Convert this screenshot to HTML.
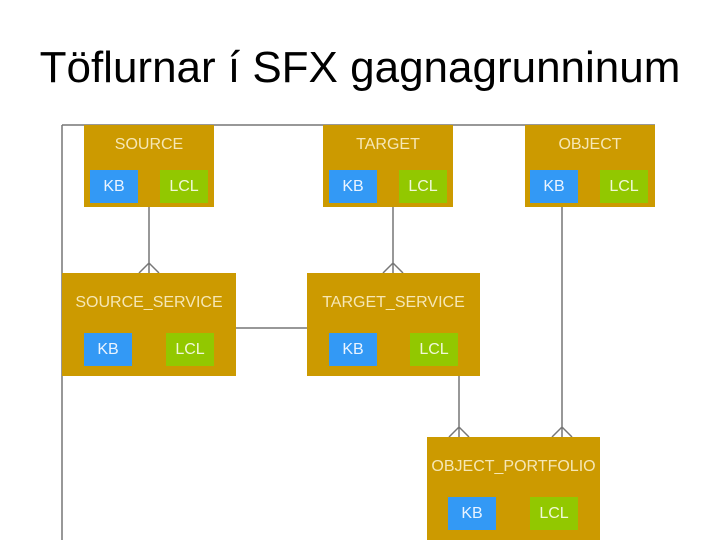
<!DOCTYPE html>
<html><head><meta charset="utf-8"><style>
body{margin:0;width:720px;height:540px;background:#fff;position:relative;overflow:hidden;font-family:"Liberation Sans",sans-serif}
.t{position:absolute;left:0;width:720px;top:43px;text-align:center;font-size:44px;color:#000;white-space:nowrap}
.b{position:absolute;background:#cc9a00}
.n{position:absolute;left:0;right:0;text-align:center;color:#f6e7b5;font-size:16px}
.k,.l{position:absolute;width:48px;height:33px;line-height:33px;text-align:center;color:#eaf4ff;font-size:16px}
.k{background:#3399f5}.l{background:#92c800;color:#f0f8d8}
svg{position:absolute;left:0;top:0}
</style></head><body>
<div class="t">Töflurnar í SFX gagnagrunninum</div>
<svg width="720" height="540">
<g stroke="#777" stroke-width="1.5" fill="none">
<path d="M62 125H655M62 125V540"/>
<path d="M149 207V273M139 273L149 263L159 273"/>
<path d="M393 207V273M383 273L393 263L403 273"/>
<path d="M459 376V437M449 437L459 427L469 437"/>
<path d="M562 207V437M552 437L562 427L572 437"/>
<path d="M236 328H307"/>
</g></svg>
<div class="b" style="left:84px;top:125px;width:130px;height:82px"><div class="n" style="top:11px">SOURCE</div><div class="k" style="left:6px;top:45px">KB</div><div class="l" style="left:76px;top:45px">LCL</div></div>
<div class="b" style="left:323px;top:125px;width:130px;height:82px"><div class="n" style="top:11px">TARGET</div><div class="k" style="left:6px;top:45px">KB</div><div class="l" style="left:76px;top:45px">LCL</div></div>
<div class="b" style="left:525px;top:125px;width:130px;height:82px"><div class="n" style="top:11px">OBJECT</div><div class="k" style="left:5px;top:45px">KB</div><div class="l" style="left:75px;top:45px">LCL</div></div>
<div class="b" style="left:62px;top:273px;width:174px;height:103px"><div class="n" style="top:21px">SOURCE_SERVICE</div><div class="k" style="left:22px;top:60px">KB</div><div class="l" style="left:104px;top:60px">LCL</div></div>
<div class="b" style="left:307px;top:273px;width:173px;height:103px"><div class="n" style="top:21px">TARGET_SERVICE</div><div class="k" style="left:22px;top:60px">KB</div><div class="l" style="left:103px;top:60px">LCL</div></div>
<div class="b" style="left:427px;top:437px;width:173px;height:103px"><div class="n" style="top:21px">OBJECT_PORTFOLIO</div><div class="k" style="left:21px;top:60px">KB</div><div class="l" style="left:103px;top:60px">LCL</div></div>
</body></html>
